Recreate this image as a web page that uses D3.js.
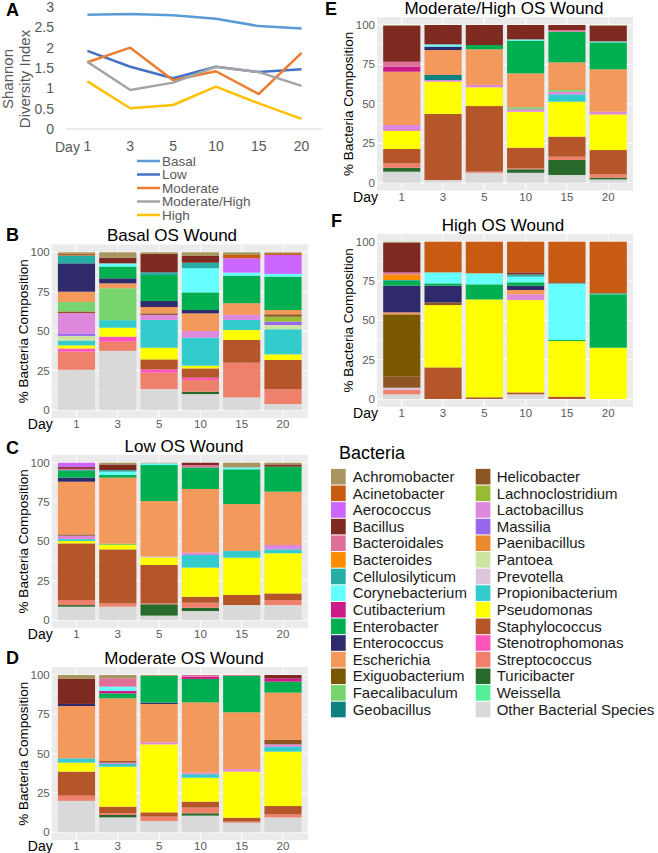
<!DOCTYPE html>
<html><head><meta charset="utf-8">
<script src="https://cdn.jsdelivr.net/npm/d3@7"></script>
<style>body{margin:0;background:#fff}svg{display:block}text{font-family:"Liberation Sans",Arial,sans-serif}</style>
</head><body><svg id="c" width="658" height="853"></svg>
<script>
// ---------- DATA ----------
const days = ["1","3","5","10","15","20"];
const diversitySeries = ["Basal","Low","Moderate","Moderate/High","High"];
const diversityColors = ["#5B9BD5","#4472C4","#ED7D31","#A5A5A5","#FFC000"];
const diversityBasal = [2.81, 2.83, 2.80, 2.71, 2.53, 2.47];
const diversityLow = [1.92, 1.53, 1.25, 1.53, 1.40, 1.47];
const diversityModerate = [1.64, 2.00, 1.20, 1.42, 0.86, 1.87];
const diversityModHigh = [1.65, 0.96, 1.14, 1.53, 1.40, 1.06];
const diversityHigh = [1.17, 0.51, 0.59, 1.04, 0.63, 0.25];
const diversityTicks = [0, 0.5, 1, 1.5, 2, 2.5, 3];
const compositionTicks = [0, 25, 50, 75, 100];

const species = ["Achromobacter","Acinetobacter","Aerococcus","Bacillus","Bacteroidales","Bacteroides",
 "Cellulosilyticum","Corynebacterium","Cutibacterium","Enterobacter","Enterococcus","Escherichia",
 "Exiguobacterium","Faecalibaculum","Geobacillus","Helicobacter","Lachnoclostridium","Lactobacillus",
 "Massilia","Paenibacillus","Pantoea","Prevotella","Propionibacterium","Pseudomonas","Staphylococcus",
 "Stenotrophomonas","Streptococcus","Turicibacter","Weissella","Other"];
const speciesLabels = species.map(s => s === "Other" ? "Other Bacterial Species" : s);
const speciesColors = ["#A8955F","#C75B12","#CC66FF","#7E2A20","#E0709A","#FF8C00",
 "#26ADA5","#66FFFF","#CC1A88","#00B050","#2E2A6B","#F4995C",
 "#7A5800","#77D46E","#0E8080","#8C5523","#99BB33","#DD88DD",
 "#9966EE","#EA8A2C","#CDE3A1","#DDC5DD","#33CCCC","#FFFF00","#B5552A",
 "#FF55BB","#EE806C","#286A2C","#55EE99","#D9D9D9"];

const basalOS = [
 {Other:25.5,Streptococcus:11.5,Stenotrophomonas:2,Pseudomonas:2,Propionibacterium:3,Pantoea:3,Massilia:1.5,Lactobacillus:13,Helicobacter:1,Faecalibaculum:6,Escherichia:6.5,Enterococcus:18,Cellulosilyticum:5,Acinetobacter:1,Achromobacter:1},
 {Other:37.5,Streptococcus:5.8,Stenotrophomonas:3.2,Pseudomonas:5.7,Propionibacterium:4.8,Faecalibaculum:20.2,Escherichia:3.1,Enterococcus:3.2,Enterobacter:7.5,Corynebacterium:2,Bacillus:3.6,Achromobacter:3.4},
 {Other:13.3,Streptococcus:10.4,Stenotrophomonas:2.1,Staphylococcus:6.3,Pseudomonas:7.4,Propionibacterium:17.6,Lactobacillus:3.2,Helicobacter:1,Escherichia:4,Enterococcus:3.8,Enterobacter:16.5,Cellulosilyticum:1.7,Bacillus:11.6,Achromobacter:1.1},
 {Other:10.1,Turicibacter:1.5,Streptococcus:7.4,Stenotrophomonas:1.5,Staphylococcus:5.9,Pseudomonas:1.7,Propionibacterium:17.8,Lactobacillus:4.2,Escherichia:11.2,Enterococcus:2.1,Enterobacter:11.2,Corynebacterium:15.3,Cellulosilyticum:3.5,Bacillus:4.3,Achromobacter:2.3},
 {Other:8,Streptococcus:22,Staphylococcus:14.4,Pseudomonas:6.3,Propionibacterium:6.4,Lactobacillus:3.2,Escherichia:7.4,Enterobacter:17.5,Corynebacterium:1.9,Aerococcus:9.1,Acinetobacter:2.1,Achromobacter:1.7},
 {Other:3.8,Streptococcus:9.3,Staphylococcus:18.6,Pseudomonas:3.6,Propionibacterium:15.9,Pantoea:2.7,Massilia:2.1,Lachnoclostridium:3.2,Helicobacter:1.5,Escherichia:2.7,Enterobacter:21.2,Corynebacterium:1.7,Aerococcus:12,Acinetobacter:1.1,Achromobacter:0.6}
];
const lowOS = [
 {Other:8.5,Turicibacter:1,Streptococcus:3.2,Staphylococcus:36,Pseudomonas:1.5,Propionibacterium:1.2,Lactobacillus:2.2,Helicobacter:0.8,Escherichia:33.5,Enterococcus:2.6,Enterobacter:4.2,Cellulosilyticum:0.6,Bacteroidales:0.8,Bacillus:1.1,Aerococcus:2.8},
 {Other:8.5,Streptococcus:2.1,Staphylococcus:34.3,Pseudomonas:2.8,Faecalibaculum:0.8,Escherichia:42,Enterobacter:1.7,Corynebacterium:2.1,Cellulosilyticum:1,Bacillus:3.6,Achromobacter:1.1},
 {Other:2.8,Turicibacter:7.2,Streptococcus:0.6,Staphylococcus:24.4,Pseudomonas:4.6,Pantoea:0.7,Escherichia:35.3,Enterobacter:22.9,Corynebacterium:1.1,Achromobacter:0.4},
 {Other:5.7,Turicibacter:2.1,Streptococcus:3.2,Staphylococcus:3.8,Pseudomonas:18.5,Propionibacterium:8,Lactobacillus:1.5,Escherichia:40.5,Enterobacter:13.7,Bacteroidales:1.5,Bacillus:1.5},
 {Other:9.5,Staphylococcus:6.4,Pseudomonas:23.7,Propionibacterium:4.3,Escherichia:29.8,Enterobacter:22.1,Corynebacterium:1.2,Achromobacter:3},
 {Other:9.5,Streptococcus:3.2,Staphylococcus:4.2,Pseudomonas:25.5,Propionibacterium:2.5,Lactobacillus:2.8,Escherichia:33.9,Enterobacter:15.9,Bacillus:1.4,Achromobacter:1.1}
];
const moderateOS = [
 {Other:20,Streptococcus:3.3,Staphylococcus:15.3,Pseudomonas:5.7,Propionibacterium:2.7,Escherichia:33.3,Enterococcus:1.3,Bacillus:15.9,Achromobacter:2.5},
 {Other:9.5,Turicibacter:1.5,Streptococcus:1.1,Staphylococcus:4.2,Pseudomonas:25.4,Propionibacterium:1.7,Lactobacillus:0.9,Helicobacter:1,Escherichia:39.9,Enterobacter:3.1,Cutibacterium:1.7,Corynebacterium:2.6,Bacteroidales:5.3,Achromobacter:2.1},
 {Other:7.2,Streptococcus:2.8,Staphylococcus:2.7,Pseudomonas:43.2,Lactobacillus:1.3,Escherichia:24.4,Enterococcus:0.8,Enterobacter:17,Achromobacter:0.6},
 {Other:10.6,Turicibacter:1.5,Streptococcus:3.6,Staphylococcus:3.8,Pseudomonas:15.2,Propionibacterium:2.2,Lactobacillus:1,Escherichia:44.7,Enterobacter:14.9,Cutibacterium:1.4,Bacteroidales:1.1},
 {Other:6.1,Streptococcus:0.7,Staphylococcus:2.5,Pseudomonas:29.3,Lactobacillus:1.5,Escherichia:36.2,Enterobacter:23.1,Bacteroidales:0.6},
 {Other:9.5,Streptococcus:1.9,Staphylococcus:5.3,Pseudomonas:34.6,Propionibacterium:3.1,Lactobacillus:1.5,Helicobacter:2.8,Escherichia:30.1,Enterobacter:7,Cutibacterium:2.1,Bacillus:2.1}
];
const modHighOS = [
 {Other:7,Turicibacter:2.5,Streptococcus:2.8,Staphylococcus:9.1,Pseudomonas:11.4,Lactobacillus:3.8,Escherichia:33.8,Cutibacterium:3.2,Bacteroidales:3.1,Bacillus:22.9,Achromobacter:0.4},
 {Other:1.7,Staphylococcus:41.9,Pseudomonas:20.5,Lactobacillus:1,Geobacillus:3.2,Escherichia:15.8,Enterococcus:2.2,Corynebacterium:1.4,Bacillus:12.3},
 {Other:6.3,Streptococcus:0.7,Staphylococcus:41.6,Pseudomonas:11.9,Lactobacillus:1.5,Escherichia:22.6,Enterobacter:2.7,Bacillus:12.7},
 {Other:6.3,Turicibacter:2.2,Streptococcus:0.6,Staphylococcus:13.1,Pseudomonas:22.8,Lactobacillus:1.5,Faecalibaculum:1.3,Escherichia:21.5,Enterobacter:20.8,Corynebacterium:0.8,Bacillus:9.1},
 {Other:4.9,Turicibacter:9.5,Streptococcus:2.1,Staphylococcus:12.7,Pseudomonas:22.2,Propionibacterium:4.6,Lactobacillus:1.7,Faecalibaculum:1.1,Escherichia:17.5,Enterobacter:19.5,Bacteroidales:1,Bacillus:3.2},
 {Other:2.1,Turicibacter:1.1,Streptococcus:2.1,Staphylococcus:15.4,Pseudomonas:22.6,Lactobacillus:1.7,Escherichia:26.9,Enterobacter:17.1,Corynebacterium:0.6,Bacillus:10,Achromobacter:0.4}
];
const highOS = [
 {Other:3,Streptococcus:2.7,Prevotella:1.5,Helicobacter:7,Exiguobacterium:39.6,Escherichia:1.3,Enterococcus:16.9,Enterobacter:3,Cellulosilyticum:0.6,Bacteroides:3.6,Bacteroidales:1.3,Bacillus:18.9,Achromobacter:0.6},
 {Staphylococcus:20.1,Pseudomonas:39.6,Helicobacter:1.7,Enterococcus:10.6,Enterobacter:1.5,Corynebacterium:7,Acinetobacter:19.5},
 {Staphylococcus:1.1,Pseudomonas:62.2,Enterobacter:9.6,Corynebacterium:7,Acinetobacter:20.1},
 {Other:3,Staphylococcus:1.2,Pseudomonas:58.7,Lactobacillus:3.6,Escherichia:2.8,Enterococcus:2.7,Enterobacter:2.2,Corynebacterium:3.6,Cellulosilyticum:1.4,Bacillus:1.3,Acinetobacter:19.5},
 {Staphylococcus:1.5,Pseudomonas:35.4,Enterobacter:0.6,Corynebacterium:36,Bacillus:0.7,Acinetobacter:25.8},
 {Pseudomonas:32.6,Enterobacter:33.9,Cellulosilyticum:0.7,Acinetobacter:32.8}
];

// ---------- DRAW ----------
const svg = d3.select("#c");
svg.append("rect").attr("width",658).attr("height",853).attr("fill","#fff");
const color = d3.scaleOrdinal().domain(species).range(speciesColors);

function letter(t,x,y){
  svg.append("text").attr("x",x).attr("y",y).attr("font-size",18).attr("font-weight","bold").attr("fill","#000").text(t);
}

// ----- Panel A -----
(function(){
  const x = d3.scaleBand().domain(days).range([66,323]);
  const y = d3.scaleLinear().domain([0,3]).range([129,7]);
  const g = svg.append("g");
  g.append("line").attr("x1",66).attr("x2",323).attr("y1",y(0)).attr("y2",y(0)).attr("stroke","#D9D9D9").attr("stroke-width",1);
  g.selectAll(".yt").data(diversityTicks).join("text").attr("x",54).attr("y",d=>y(d)+5)
    .attr("text-anchor","end").attr("font-size",14).attr("fill","#595959").text(d=>d);
  g.selectAll(".xt").data(days).join("text").attr("x",d=>x(d)+x.bandwidth()/2).attr("y",151)
    .attr("text-anchor","middle").attr("font-size",14).attr("fill","#595959").text(d=>d);
  g.append("text").attr("x",55).attr("y",152).attr("font-size",14).attr("fill","#595959").text("Day");
  const yt = g.append("text").attr("transform","translate(13,79) rotate(-90)").attr("text-anchor","middle").attr("font-size",15).attr("fill","#595959");
  yt.append("tspan").attr("x",0).attr("dy",0).text("Shannon");
  yt.append("tspan").attr("x",0).attr("dy",17).text("Diversity Index");
  const all = [diversityBasal,diversityLow,diversityModerate,diversityModHigh,diversityHigh];
  const line = d3.line().x((d,i)=>x(days[i])+x.bandwidth()/2).y(d=>y(d));
  all.forEach((s,i)=>{
    g.append("path").attr("d",line(s)).attr("fill","none").attr("stroke",diversityColors[i]).attr("stroke-width",2.5).attr("stroke-linejoin","round");
  });
  diversitySeries.forEach((n,i)=>{
    const cy = 161 + i*13.5;
    g.append("line").attr("x1",137).attr("x2",160).attr("y1",cy).attr("y2",cy).attr("stroke",diversityColors[i]).attr("stroke-width",2.5);
    g.append("text").attr("x",162).attr("y",cy+4.5).attr("font-size",13.5).attr("fill","#595959").text(n);
  });
  letter("A",6,16);
})();

// ----- stacked panels -----
const stackKeys = species.slice().reverse();
const panels = [
 {id:"B",title:"Basal OS Wound",data:basalOS,x0:51.7,x1:307.8,y0:410,y100:252.3,tx:172,ty:241,ly:241,lx:6},
 {id:"C",title:"Low OS Wound",data:lowOS,x0:51.7,x1:307.8,y0:620,y100:462.7,tx:184,ty:452,ly:454,lx:6},
 {id:"D",title:"Moderate OS Wound",data:moderateOS,x0:51.7,x1:307.8,y0:832.3,y100:675,tx:184,ty:663.5,ly:664,lx:6},
 {id:"E",title:"Moderate/High OS Wound",data:modHighOS,x0:377,x1:633,y0:182.7,y100:25,tx:504,ty:14,ly:15,lx:325},
 {id:"F",title:"High OS Wound",data:highOS,x0:377,x1:633,y0:399,y100:241.7,tx:503,ty:230.5,ly:227,lx:331}
];
panels.forEach(p=>{
  const g = svg.append("g");
  const x = d3.scaleBand().domain(days).range([p.x0,p.x1]).paddingInner(0.1).paddingOuter(0.15);
  const y = d3.scaleLinear().domain([0,100]).range([p.y0,p.y100]);
  const top = y(105), bot = y(-5);
  g.append("rect").attr("x",p.x0).attr("y",top).attr("width",p.x1-p.x0).attr("height",bot-top).attr("fill","#EBEBEB");
  const minor = [12.5,37.5,62.5,87.5];
  g.selectAll(".mn").data(minor).join("line").attr("x1",p.x0).attr("x2",p.x1).attr("y1",d=>y(d)).attr("y2",d=>y(d)).attr("stroke","#fff").attr("stroke-width",0.5);
  g.selectAll(".mj").data(compositionTicks).join("line").attr("x1",p.x0).attr("x2",p.x1).attr("y1",d=>y(d)).attr("y2",d=>y(d)).attr("stroke","#fff").attr("stroke-width",1);
  g.selectAll(".vj").data(days).join("line").attr("x1",d=>x(d)+x.bandwidth()/2).attr("x2",d=>x(d)+x.bandwidth()/2).attr("y1",top).attr("y2",bot).attr("stroke","#fff").attr("stroke-width",1);
  const rows = p.data.map((d,i)=>Object.assign({day:days[i]},d));
  const series = d3.stack().keys(stackKeys).value((d,k)=>d[k]||0)(rows);
  g.selectAll(".s").data(series).join("g").attr("fill",s=>color(s.key))
    .selectAll("rect").data(s=>s.filter(v=>v[1]-v[0]>0)).join("rect")
    .attr("x",v=>x(v.data.day)).attr("width",x.bandwidth())
    .attr("y",v=>y(v[1])).attr("height",v=>y(v[0])-y(v[1]));
  g.selectAll(".yt").data(compositionTicks).join("text").attr("x",p.x0-2).attr("y",d=>y(d)+4)
    .attr("text-anchor","end").attr("font-size",11.5).attr("fill","#5a5a5a").text(d=>d);
  g.selectAll(".xt").data(days).join("text").attr("x",d=>x(d)+x.bandwidth()/2).attr("y",bot+10)
    .attr("text-anchor","middle").attr("font-size",11.5).attr("fill","#5a5a5a").text(d=>d);
  g.append("text").attr("x",p.x0+1).attr("y",bot+11).attr("text-anchor","end").attr("font-size",14).attr("fill","#000").text("Day");
  g.append("text").attr("transform",`translate(${p.x0-24},${(p.y0+p.y100)/2}) rotate(-90)`).attr("text-anchor","middle")
    .attr("font-size",13.5).attr("fill","#000").text("% Bacteria Composition");
  g.append("text").attr("x",p.tx).attr("y",p.ty).attr("text-anchor","middle").attr("font-size",17).attr("fill","#000").text(p.title);
  letter(p.id,p.lx,p.ly);
});

// ----- legend -----
(function(){
  const g = svg.append("g");
  g.append("text").attr("x",339).attr("y",459).attr("font-size",18).attr("fill","#000").text("Bacteria");
  species.forEach((s,i)=>{
    const col = i<15?0:1, row = i%15;
    const cy = 476.7 + row*16.63;
    const kx = col?475.7:331, tx = col?496.7:352.7;
    g.append("rect").attr("x",kx).attr("y",cy-7.8).attr("width",14.7).attr("height",15.6).attr("fill",color(s));
    g.append("text").attr("x",tx).attr("y",cy+5.2).attr("font-size",15).attr("fill","#1a1a1a").text(speciesLabels[i]);
  });
})();
</script></body></html>
